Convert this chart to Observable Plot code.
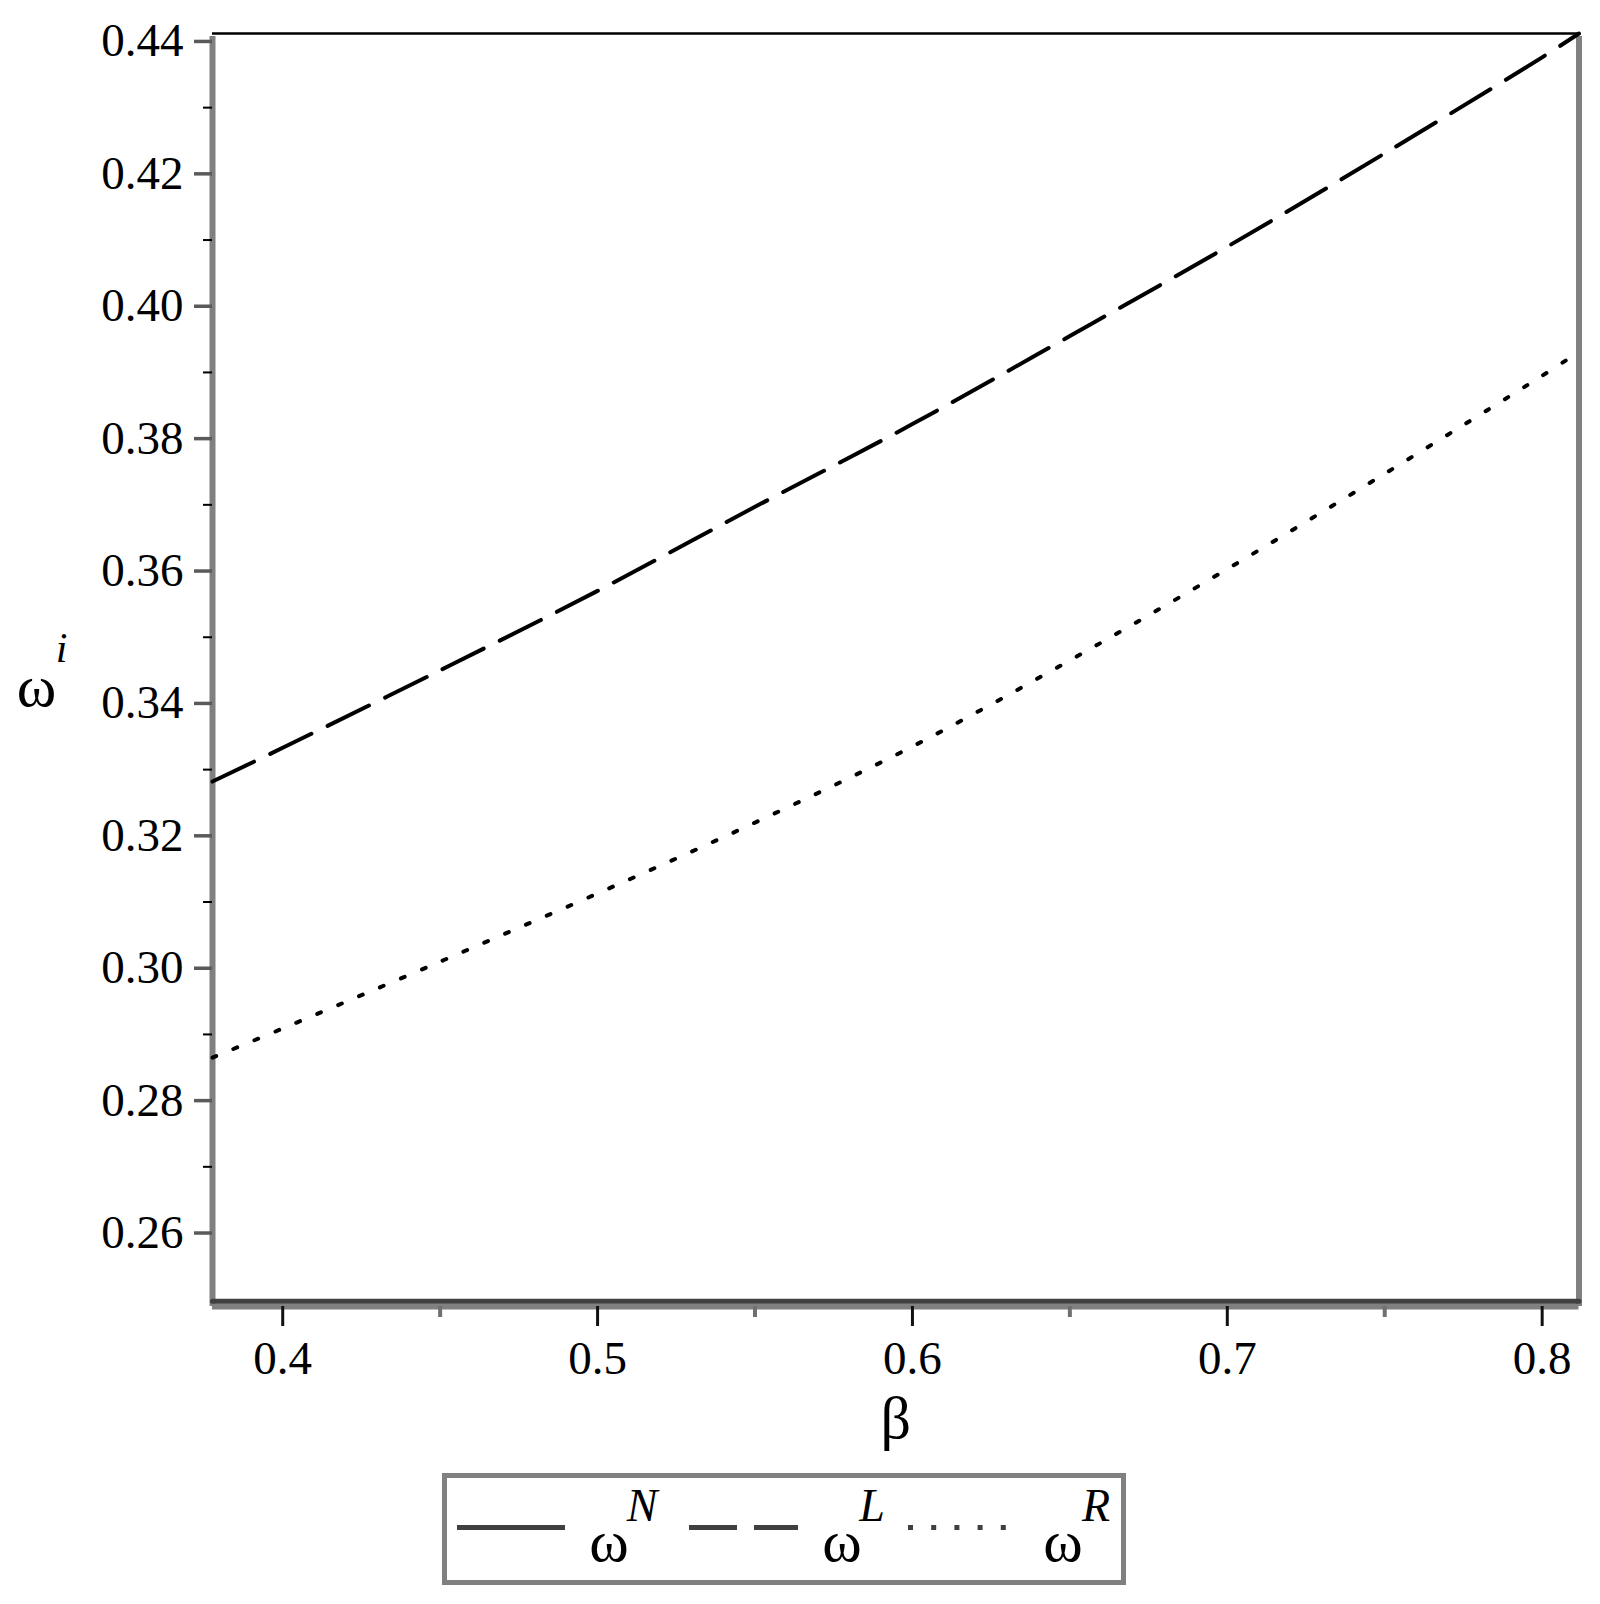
<!DOCTYPE html>
<html>
<head>
<meta charset="utf-8">
<script src="https://cdn.jsdelivr.net/npm/d3@7"></script>
<script src="https://cdn.jsdelivr.net/npm/@observablehq/plot@0.6"></script>
<style>
  html, body { margin: 0; padding: 0; background: #ffffff; }
  #wrap { position: relative; width: 1600px; height: 1604px; background: #fff; font-family: "Liberation Serif", "Times New Roman", serif; }
  #chart { position: absolute; left: 0; top: 0; }
  #legend { position: absolute; left: 0; top: 1460px; }
</style>
</head>
<body>
<div id="wrap">
  <div id="chart"></div>
  <svg id="legend" width="1600" height="144" xmlns="http://www.w3.org/2000/svg"></svg>
</div>
<script>
// ---- data ----
const beta   = [0.3777, 0.40, 0.45, 0.50, 0.55, 0.60, 0.65, 0.70, 0.75, 0.80, 0.8117];
const omegaN = [0.2497, 0.2497, 0.2497, 0.2497, 0.2497, 0.2497, 0.2497, 0.2497, 0.2497, 0.2497, 0.2497];
const omegaL = [0.3282, 0.3333, 0.3450, 0.3570, 0.3697, 0.3822, 0.3955, 0.4090, 0.4231, 0.4376, 0.4412];
const omegaR = [0.2865, 0.2909, 0.3010, 0.3113, 0.3220, 0.3335, 0.3465, 0.3603, 0.3747, 0.3895, 0.3931];

const xDomain = [0.3777, 0.8117];
const yDomain = [0.2489, 0.4412];
const xMajorTicks = [0.4, 0.5, 0.6, 0.7, 0.8];
const xMinorTicks = [0.45, 0.55, 0.65, 0.75];
const yMajorTicks = [0.26, 0.28, 0.30, 0.32, 0.34, 0.36, 0.38, 0.40, 0.42, 0.44];
const yMinorTicks = [0.27, 0.29, 0.31, 0.33, 0.35, 0.37, 0.39, 0.41, 0.43];

const xLabel = "β";
const yLabelBase = "ω";
const yLabelSup = "i";
const seriesNames = ["N", "L", "R"];
const seriesBase = "ω";

const rows = beta.map((b, i) => ({beta: b, N: omegaN[i], L: omegaL[i], R: omegaR[i]}));
const serif = "Liberation Serif, Times New Roman, serif";

const plot = Plot.plot({
  width: 1600,
  height: 1460,
  marginLeft: 212,
  marginRight: 21.5,
  marginTop: 33,
  marginBottom: 154,
  style: {fontFamily: serif, fontSize: "46px", color: "#000", background: "#fff"},
  x: {domain: xDomain},
  y: {domain: yDomain},
  marks: [
    // frame
    Plot.ruleY([yDomain[0]], {stroke: "#808080", strokeWidth: 6}),
    Plot.ruleY([yDomain[1]], {stroke: "#000", strokeWidth: 2.5}),
    Plot.ruleX([xDomain[0]], {stroke: "#808080", strokeWidth: 6, y1: yDomain[0], y2: yDomain[1], insetBottom: -3}),
    Plot.ruleX([xDomain[1]], {stroke: "#808080", strokeWidth: 6, y1: yDomain[0], y2: yDomain[1], insetBottom: -3}),
    // axes
    Plot.axisY({ticks: yMajorTicks, tickSize: 18, tickPadding: 11, tickFormat: d3.format(".2f"),
                stroke: "#5a5a5a", strokeWidth: 3.5, fontSize: 47, label: null, fill: "#000"}),
    Plot.axisY({ticks: yMinorTicks, tickSize: 9, text: null, stroke: "#000", strokeWidth: 2, label: null}),
    Plot.axisX({ticks: xMajorTicks, tickSize: 20, tickPadding: 14, tickFormat: d3.format(".1f"),
                stroke: "#111", strokeWidth: 3, fontSize: 47, label: null, fill: "#000"}),
    Plot.axisX({ticks: xMinorTicks, tickSize: 11, text: null, stroke: "#707070", strokeWidth: 4, label: null}),
    // series
    Plot.line(rows, {x: "beta", y: "N", stroke: "#404040", strokeWidth: 5}),
    Plot.line(rows, {x: "beta", y: "L", stroke: "#000", strokeWidth: 4, strokeDasharray: "46 18", curve: "catmull-rom"}),
    Plot.line(rows, {x: "beta", y: "R", stroke: "#000", strokeWidth: 4, strokeDasharray: "4 18.7", curve: "catmull-rom"}),
    // axis labels
    Plot.text([xLabel], {frameAnchor: "bottom", text: d => d, textAnchor: "middle", lineAnchor: "middle",
                         dy: 112, fontSize: 60, fill: "#000", fontFamily: serif}),
    Plot.text([yLabelBase], {frameAnchor: "left", text: d => d, textAnchor: "middle", lineAnchor: "middle",
                             dx: -176, dy: 17, fontSize: 60, fill: "#000", fontFamily: serif}),
    Plot.text([yLabelSup], {frameAnchor: "left", text: d => d, textAnchor: "middle", lineAnchor: "middle",
                            dx: -151, dy: -21, fontSize: 42, fontStyle: "italic", fill: "#000", fontFamily: serif})
  ]
});
document.getElementById("chart").appendChild(plot);

// ---- legend ----
const lg = d3.select("#legend");
lg.append("rect").attr("x", 444.5).attr("y", 15.5).attr("width", 679).attr("height", 107)
  .attr("fill", "none").attr("stroke", "#808080").attr("stroke-width", 5);
const samples = [
  {x1: 457, x2: 565, dash: null,     w: 5, baseX: 609, supX: 642},
  {x1: 689, x2: 798, dash: "48 17",  w: 5, baseX: 842, supX: 872},
  {x1: 908, x2: 1008, dash: "5 18.2", w: 5, baseX: 1063, supX: 1096}
];
samples.forEach((s, i) => {
  lg.append("line").attr("x1", s.x1).attr("x2", s.x2).attr("y1", 67.5).attr("y2", 67.5)
    .attr("stroke", "#404040").attr("stroke-width", s.w)
    .attr("stroke-dasharray", s.dash);
  lg.append("text").attr("x", s.baseX).attr("y", 101).attr("text-anchor", "middle")
    .attr("font-family", serif).attr("font-size", 60).text(seriesBase);
  lg.append("text").attr("x", s.supX).attr("y", 61).attr("text-anchor", "middle")
    .attr("font-family", serif).attr("font-size", 46).attr("font-style", "italic").text(seriesNames[i]);
});
</script>
</body>
</html>
